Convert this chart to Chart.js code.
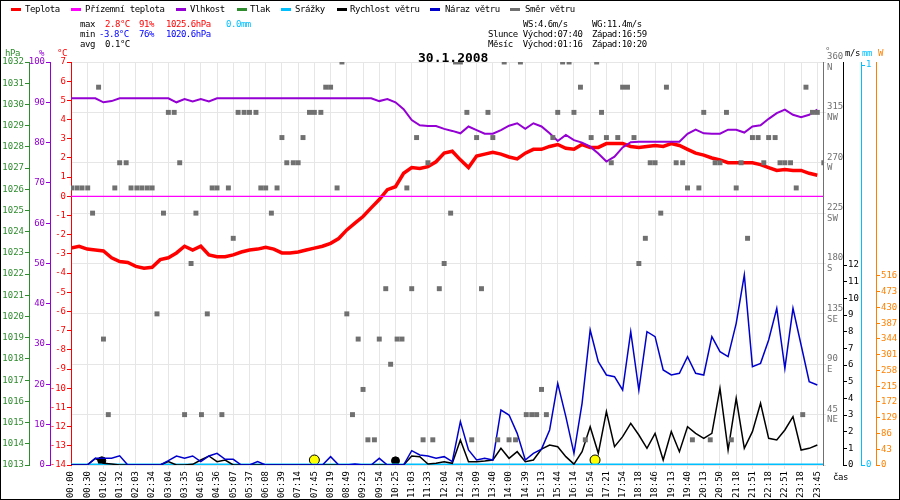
<!DOCTYPE html>
<html>
<head>
<meta charset="utf-8">
<script src="https://cdn.jsdelivr.net/npm/chart.js@4"></script>
<style>
  body { margin: 0; background: #fff; }
  #wrap { position: relative; width: 900px; height: 500px; font-family: "DejaVu Sans Mono", monospace; font-size: 9px; }
  #wrap canvas { position: absolute; left: 0; top: 0; }
  .t { position: absolute; white-space: pre; line-height: 10px; letter-spacing: -0.45px; }
  .dash { position: absolute; width: 10px; height: 3px; top: 8px; }
  #frame { position: absolute; left: 0; top: 0; width: 898px; height: 498px; border: 1px solid #000; pointer-events: none; }
</style>
</head>
<body>
<div id="wrap">
  <canvas id="chart" width="900" height="500"></canvas>

  <div class="dash" style="left:11px;background:#f00"></div><div class="t" style="left:25px;top:4px">Teplota</div>
  <div class="dash" style="left:71px;background:#f0f"></div><div class="t" style="left:85px;top:4px">Přízemní teplota</div>
  <div class="dash" style="left:176px;background:#9400d3"></div><div class="t" style="left:190px;top:4px">Vlhkost</div>
  <div class="dash" style="left:237px;background:#2e8b2e"></div><div class="t" style="left:250px;top:4px">Tlak</div>
  <div class="dash" style="left:281px;background:#00bfff"></div><div class="t" style="left:295px;top:4px">Srážky</div>
  <div class="dash" style="left:337px;background:#000"></div><div class="t" style="left:350px;top:4px">Rychlost větru</div>
  <div class="dash" style="left:430px;background:#0000cc"></div><div class="t" style="left:445px;top:4px">Náraz větru</div>
  <div class="dash" style="left:510px;background:#707070"></div><div class="t" style="left:525px;top:4px">Směr větru</div>

  <div class="t" style="left:80px;top:19px">max</div>
  <div class="t" style="left:105px;top:19px;color:#f00">2.8°C</div>
  <div class="t" style="left:139px;top:19px;color:#f00">91%</div>
  <div class="t" style="left:166px;top:19px;color:#f00">1025.6hPa</div>
  <div class="t" style="left:226px;top:19px;color:#00bfff">0.0mm</div>
  <div class="t" style="left:80px;top:29px">min</div>
  <div class="t" style="left:99px;top:29px;color:#00f">-3.8°C</div>
  <div class="t" style="left:139px;top:29px;color:#00f">76%</div>
  <div class="t" style="left:166px;top:29px;color:#00f">1020.6hPa</div>
  <div class="t" style="left:80px;top:39px">avg</div>
  <div class="t" style="left:105px;top:39px">0.1°C</div>

  <div class="t" style="left:523px;top:19px">WS:4.6m/s</div>
  <div class="t" style="left:592px;top:19px">WG:11.4m/s</div>
  <div class="t" style="left:488px;top:29px">Slunce Východ:07:40</div>
  <div class="t" style="left:592px;top:29px">Západ:16:59</div>
  <div class="t" style="left:488px;top:39px">Měsíc  Východ:01:16</div>
  <div class="t" style="left:592px;top:39px">Západ:10:20</div>

  <div class="t" style="left:418px;top:51px;font-size:13px;font-weight:bold;line-height:13px;letter-spacing:0">30.1.2008</div>

  <div class="t" style="left:5px;top:48px;color:#2e8b2e">hPa</div>
  <div class="t" style="left:39px;top:48px;color:#9400d3">%</div>
  <div class="t" style="left:57px;top:48px;color:#f00">°C</div>
  <div class="t" style="left:825px;top:46px;color:#707070">°</div>
  <div class="t" style="left:845px;top:48px">m/s</div>
  <div class="t" style="left:862px;top:48px;color:#00bfff">mm</div>
  <div class="t" style="left:878px;top:48px;color:#ff8000">W</div>
  <div class="t" style="left:833px;top:472px">čas</div>

  <div id="frame"></div>
</div>

<script>

    // tick labels along the time axis (one per grid column)
    const timeLabels = ["00:00","00:30","01:02","01:32","02:03","02:34","03:04","03:35","04:05","04:36",
        "05:07","05:37","06:08","06:39","07:14","07:45","08:19","08:49","09:23","09:54",
        "10:25","11:03","11:33","12:04","12:34","13:09","13:40","14:00","14:39","15:13",
        "15:44","16:14","16:54","17:21","17:54","18:18","18:46","19:13","19:40","20:13",
        "20:50","21:18","21:51","22:18","22:51","23:18","23:45"]

    // series values, two samples per grid column
    const temperature = [
        -2.7,-2.6,-2.75,-2.8,-2.85,-3.2,-3.4,-3.45,-3.65,-3.75,
        -3.7,-3.3,-3.2,-2.95,-2.6,-2.8,-2.6,-3.05,-3.15,-3.15,
        -3.05,-2.9,-2.8,-2.75,-2.65,-2.75,-2.95,-2.95,-2.9,-2.8,
        -2.7,-2.6,-2.45,-2.2,-1.75,-1.4,-1.05,-0.6,-0.17,0.35,
        0.5,1.2,1.5,1.45,1.55,1.8,2.25,2.35,1.9,1.5,
        2.1,2.2,2.3,2.2,2.05,1.95,2.25,2.45,2.45,2.6,
        2.7,2.5,2.45,2.7,2.55,2.55,2.75,2.75,2.75,2.6,
        2.55,2.6,2.65,2.6,2.75,2.65,2.45,2.25,2.15,2.0,
        1.9,1.75,1.75,1.75,1.75,1.65,1.5,1.35,1.4,1.35,
        1.35,1.2,1.1]

    const humidity = [
        91,91,91,91,90,90.3,91,91,91,91,
        91,91,91,90,90.8,90.2,90.8,90.2,91,91,
        91,91,91,91,91,91,91,91,91,91,
        91,91,91,91,91,91,91,91,90.3,90.8,
        90,88.3,85.6,84.3,84.1,84.1,83.4,82.9,82.3,84,
        83.1,82.2,82.2,83.1,84.2,84.8,83.4,84.8,84,82.3,
        80.4,81.9,80.6,80,79,77.3,75.3,76.5,78.8,80.1,
        80.2,80.2,80.2,80.2,80.2,80.2,82.2,83.2,82.3,82.2,
        82.2,83.2,83.2,82.5,84,84.3,85.9,87.3,88.2,86.9,
        86.3,86.9,88.2]

    const windGust = [
        0,0,0,0.4,0.4,0.4,0.55,0,0,0,
        0,0,0.26,0.54,0.4,0.54,0.2,0.54,0.7,0.34,
        0.34,0,0,0.2,0,0,0,0,0,0,
        0,0,0.5,0,0,0.06,0,0,0.4,0,
        0,0,0.86,0.6,0.54,0.4,0.5,0.2,2.6,0.9,
        0.3,0.4,0.3,3.3,3.0,1.9,0.3,0.7,0.95,2.1,
        4.9,2.9,0.7,3.7,8.1,6.2,5.4,5.3,4.5,8.0,
        4.5,8.0,7.7,5.7,5.4,5.5,6.5,5.5,5.4,7.7,
        6.8,6.5,8.5,11.4,5.9,6.1,7.5,9.4,5.8,9.4,
        7.2,5.0,4.8]

    const windSpeed = [
        0,0,0,0.4,0.1,0.06,0,0,0,0,
        0,0,0.2,0,0,0.04,0.3,0.54,0.2,0.3,
        0,0,0,0,0,0,0,0,0,0,
        0,0,0,0,0,0,0,0,0,0,
        0,0,0.54,0.5,0.06,0.1,0.2,0.1,1.5,0.2,
        0.2,0.24,0.3,1.0,0.4,0.8,0.2,0.3,0.95,1.2,
        1.1,0.5,0.05,0.8,2.3,0.7,3.2,1.1,1.7,2.5,
        1.8,1.0,1.9,0.3,2.0,0.8,2.3,1.9,1.6,1.9,
        4.6,0.9,4.0,1.0,2.0,3.7,1.6,1.5,2.1,2.9,
        0.9,1.0,1.2]

    const groundTemp = [0, 0]
    const rain = [0, 0]

    // wind direction samples: position on the time axis and direction in degrees
    const dirTime = [0.04,0.37,0.68,1.03,1.33,1.7,2.0,2.3,2.7,3.0,3.4,3.7,4.06,4.37,4.7,5.0,5.3,5.7,6.0,6.36,
        6.7,7.0,7.4,7.7,8.04,8.4,8.7,9.0,9.3,9.7,10.0,10.3,10.67,11.0,11.4,11.7,12.0,12.35,12.7,13.0,
        13.3,13.7,14.0,14.3,14.7,15.0,15.4,15.7,16.0,16.4,16.7,17.0,17.35,17.7,18.0,18.3,18.7,19.0,19.4,19.7,
        20.1,20.4,20.7,21.0,21.3,21.7,22.0,22.3,22.7,23.0,23.4,23.7,24.0,24.4,24.7,25.0,25.3,25.7,26.0,26.3,
        26.7,27.0,27.4,27.7,28.06,28.4,28.7,29.0,29.3,29.7,30.0,30.3,30.7,31.0,31.4,31.7,32.06,32.4,32.7,33.0,
        33.3,33.7,34.0,34.3,34.7,35.0,35.4,35.7,36.0,36.35,36.7,37.3,37.7,38.0,38.3,38.7,39.0,39.4,39.7,40.0,
        40.4,40.7,41.0,41.3,41.7,42.0,42.35,42.7,43.0,43.4,43.7,44.0,44.35,44.7,45.1,45.3,45.7,46.0,46.4]
    const dirDeg = [247.5,247.5,247.5,247.5,225,337.5,112.5,45,247.5,270,270,247.5,247.5,247.5,247.5,247.5,135,225,315,315,
        270,45,180,225,45,135,247.5,247.5,45,247.5,202.5,315,315,315,315,247.5,247.5,225,247.5,292.5,
        270,270,270,292.5,315,315,315,337.5,337.5,247.5,360,135,45,112.5,67.5,22.5,22.5,112.5,157.5,90,
        112.5,112.5,247.5,157.5,292.5,22.5,270,22.5,157.5,180,225,360,360,315,22.5,292.5,157.5,315,292.5,22.5,
        360,22.5,22.5,360,45,45,45,67.5,45,292.5,315,360,360,315,337.5,22.5,292.5,360,315,292.5,
        270,292.5,337.5,337.5,292.5,180,202.5,270,270,225,337.5,270,270,247.5,22.5,247.5,315,22.5,270,270,
        315,22.5,247.5,270,202.5,292.5,292.5,270,292.5,292.5,270,270,270,247.5,45,337.5,315,315,270]

    // sunrise / sunset and moonrise / moonset markers on the time axis
    const sunTime = [15, 32.3]
    const moonTime = [1.9, 20.0]

    const compass = {0:'', 45:'NE', 90:'E', 135:'SE', 180:'S', 225:'SW', 270:'W', 315:'NW', 360:'N'}
    const mono = { family: 'DejaVu Sans Mono', size: 9 }
    const xMax = 46.35
    const half = arr => arr.map((v, i) => ({ x: i / 2, y: v }))
    const flat = arr => [{ x: 0, y: arr[0] }, { x: xMax, y: arr[1] }]
    const fixWidth = w => axis => { axis.width = w }

    function sideAxis(color, pos, weight, min, max, step, width, extra) {
        return Object.assign({
            type: 'linear', position: pos, weight: weight, min: min, max: max,
            border: { color: color, width: 1 },
            grid: { drawOnChartArea: false, color: color, tickLength: 4 },
            ticks: { stepSize: step, color: color, font: mono, padding: 1, autoSkip: false, callback: v => String(v) },
            afterFit: fixWidth(width)
        }, extra || {})
    }

    new Chart(document.getElementById('chart'), {
        type: 'line',
        data: {
            datasets: [
                { label: 'Směr větru', type: 'scatter', yAxisID: 'yD', data: dirTime.map((t, i) => ({ x: t, y: dirDeg[i] })),
                  pointStyle: 'rect', pointRadius: 3.5, backgroundColor: '#707070', borderWidth: 0 },
                { label: 'Přízemní teplota', yAxisID: 'yT', data: flat(groundTemp), borderColor: '#ff00ff', borderWidth: 1.2, pointRadius: 0 },
                { label: 'Vlhkost', yAxisID: 'yH', data: half(humidity), borderColor: '#9400d3', borderWidth: 2, pointRadius: 0 },
                { label: 'Teplota', yAxisID: 'yT', data: half(temperature), borderColor: '#ff0000', borderWidth: 3.5, pointRadius: 0 },
                { label: 'Náraz větru', yAxisID: 'yS', data: half(windGust), borderColor: '#0000cc', borderWidth: 1.5, pointRadius: 0 },
                { label: 'Rychlost větru', yAxisID: 'yS', data: half(windSpeed), borderColor: '#000', borderWidth: 1.5, pointRadius: 0 },
                { label: 'Srážky', yAxisID: 'yM', data: flat(rain), borderColor: '#00bfff', borderWidth: 3, pointRadius: 0 },
                { label: 'Slunce', type: 'scatter', yAxisID: 'yS', data: sunTime.map(t => ({ x: t, y: 0.3 })),
                  pointRadius: 5, backgroundColor: '#ffff00', borderColor: '#000', borderWidth: 1 },
                { label: 'Měsíc', type: 'scatter', yAxisID: 'yS', data: moonTime.map(t => ({ x: t, y: 0.25 })),
                  pointRadius: 4, backgroundColor: '#000', borderColor: '#000', borderWidth: 1 }
            ]
        },
        options: {
            responsive: false,
            animation: false,
            layout: { padding: { top: 62, left: 0, right: 0, bottom: 0 } },
            plugins: { legend: { display: false }, tooltip: { enabled: false } },
            elements: { line: { tension: 0 } },
            scales: {
                x: {
                    type: 'linear', min: 0, max: xMax,
                    afterBuildTicks: axis => { axis.ticks = timeLabels.map((_, i) => ({ value: i })) },
                    ticks: { callback: v => timeLabels[v], minRotation: 90, maxRotation: 90, color: '#000', font: mono, autoSkip: false, padding: 2 },
                    grid: { color: '#e6e6e6', tickLength: 4 },
                    border: { display: false },
                    afterFit: axis => { axis.height = 35 }
                },
                yT: sideAxis('#ff0000', 'left', 0, -14, 7, 1, 21),
                yH: sideAxis('#9400d3', 'left', 1, 0, 100, 10, 21),
                yP: sideAxis('#2e8b2e', 'left', 2, 1013, 1032, 1, 29),
                yD: sideAxis('#707070', 'right', 0, 0, 360, 45, 20, {
                    grid: { drawOnChartArea: true, color: '#e6e6e6', tickLength: 3 },
                    ticks: { stepSize: 45, color: '#707070', font: mono, padding: 1,
                        callback: v => v === 0 ? '' : [String(v), compass[v]] }
                }),
                yS: sideAxis('#000000', 'right', 1, 0, 24.18, 1, 18, {
                    afterBuildTicks: axis => { axis.ticks = axis.ticks.filter(t => t.value <= 12) }
                }),
                yM: sideAxis('#00bfff', 'right', 2, 0, 1.0075, 1, 15, {
                    afterBuildTicks: axis => { axis.ticks = [{ value: 0 }, { value: 1 }] }
                }),
                yW: sideAxis('#ff8000', 'right', 3, 0, 1100, 43, 24, {
                    afterBuildTicks: axis => { axis.ticks = axis.ticks.filter(t => t.value <= 516) }
                })
            }
        }
    })

</script>
</body>
</html>
